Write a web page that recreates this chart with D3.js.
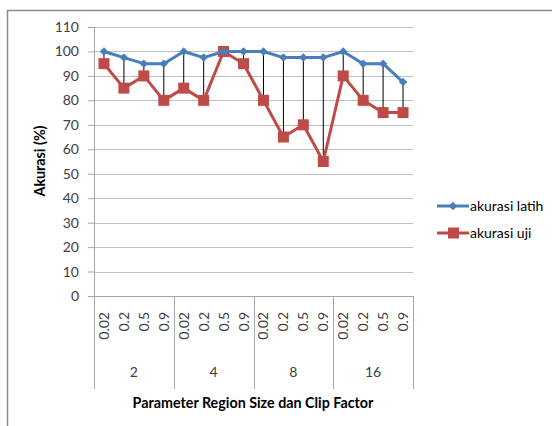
<!DOCTYPE html>
<html>
<head>
<meta charset="utf-8">
<script src="https://cdn.jsdelivr.net/npm/d3@7"></script>
<style>
  html, body { margin: 0; padding: 0; background: #fff; }
  svg { display: block; font-family: Lato, "Liberation Sans", sans-serif; }
</style>
</head>
<body>
<svg id="chart" width="552" height="426"></svg>
<script>
// Region size groups and the clip factors inside each group
const groups = ["2", "4", "8", "16"];
const clipFactors = ["0.02", "0.2", "0.5", "0.9"];

// Accuracy (%) per configuration, in group order
const akurasiLatih = [100, 97.5, 95, 95, 100, 97.5, 100, 100, 100, 97.5, 97.5, 97.5, 100, 95, 95, 87.5];
const akurasiUji   = [95, 85, 90, 80, 85, 80, 100, 95, 80, 65, 70, 55, 90, 80, 75, 75];

const yTicks = [0, 10, 20, 30, 40, 50, 60, 70, 80, 90, 100, 110];

const seriesNames = ["akurasi latih", "akurasi uji"];
const blue = "#4A7EBB";
const red = "#BE4B48";

// One row per category: group label, clip factor label, both values
const rows = [];
groups.forEach((g, gi) => clipFactors.forEach((c, ci) => {
  const i = gi * clipFactors.length + ci;
  rows.push({ key: g + "|" + c, group: g, clip: c, latih: akurasiLatih[i], uji: akurasiUji[i] });
}));

const svg = d3.select("#chart");

// Chart frame (only top and left edges fall inside the page)
svg.append("line").attr("x1", 7).attr("x2", 552).attr("y1", 10.5).attr("y2", 10.5)
  .attr("stroke", "#8c8c8c").attr("stroke-width", 1.5);
svg.append("line").attr("x1", 7.5).attr("x2", 7.5).attr("y1", 10).attr("y2", 426)
  .attr("stroke", "#8c8c8c").attr("stroke-width", 1.5);

const plot = { left: 94, right: 413, top: 27, bottom: 296 };

const x = d3.scaleBand().domain(rows.map(r => r.key)).range([plot.left, plot.right]);
const y = d3.scaleLinear().domain([0, 110]).range([plot.bottom, plot.top]);
const cx = k => x(k) + x.bandwidth() / 2;

// Horizontal gridlines
svg.append("g").selectAll("line").data(yTicks.filter(t => t > 0)).join("line")
  .attr("x1", plot.left).attr("x2", plot.right)
  .attr("y1", d => Math.round(y(d)) + 0.5).attr("y2", d => Math.round(y(d)) + 0.5)
  .attr("stroke", "#bfbfbf").attr("stroke-width", 1);

// Y axis with outward ticks
const yAxis = svg.append("g").attr("transform", `translate(${plot.left},0)`)
  .call(d3.axisLeft(y).tickValues(yTicks).tickSize(6).tickPadding(9));
yAxis.select(".domain").remove();
yAxis.selectAll(".tick line").attr("stroke", "#a6a6a6");
yAxis.selectAll(".tick text").attr("font-size", 14).attr("fill", "#404040")
  .attr("font-family", "Lato, 'Liberation Sans', sans-serif");
svg.append("line").attr("x1", plot.left + 0.5).attr("x2", plot.left + 0.5)
  .attr("y1", plot.top).attr("y2", 389).attr("stroke", "#a6a6a6");

// X axis baseline
svg.append("line").attr("x1", plot.left - 6).attr("x2", plot.right)
  .attr("y1", Math.round(y(0)) + 0.5).attr("y2", Math.round(y(0)) + 0.5)
  .attr("stroke", "#a6a6a6");

// Group dividers below the axis
const boundaries = groups.map((g, gi) => x(rows[gi * clipFactors.length].key)).concat([plot.right]);
svg.append("g").selectAll("line").data(boundaries.slice(1)).join("line")
  .attr("x1", d => Math.round(d) + 0.5).attr("x2", d => Math.round(d) + 0.5)
  .attr("y1", y(0)).attr("y2", 389).attr("stroke", "#a6a6a6");

// Clip factor labels, rotated
svg.append("g").selectAll("text").data(rows).join("text")
  .attr("transform", d => `translate(${cx(d.key) + 5},${y(0) + 16}) rotate(-90)`)
  .attr("text-anchor", "end").attr("font-size", 14).attr("fill", "#404040")
  .text(d => d.clip);

// Region size labels
svg.append("g").selectAll("text").data(groups).join("text")
  .attr("x", (g, gi) => (boundaries[gi] + boundaries[gi + 1]) / 2)
  .attr("y", 377).attr("text-anchor", "middle").attr("font-size", 14).attr("fill", "#404040")
  .text(g => g);

// High-low lines between the two series
svg.append("g").selectAll("line").data(rows).join("line")
  .attr("x1", d => cx(d.key)).attr("x2", d => cx(d.key))
  .attr("y1", d => y(d.latih)).attr("y2", d => y(d.uji))
  .attr("stroke", "#000").attr("stroke-width", 1);

const line = key => d3.line().x(d => cx(d.key)).y(d => y(d[key]));

// Uji series
svg.append("path").datum(rows).attr("d", line("uji"))
  .attr("fill", "none").attr("stroke", red).attr("stroke-width", 3).attr("stroke-linejoin", "round");
svg.append("g").selectAll("rect").data(rows).join("rect")
  .attr("x", d => cx(d.key) - 5.5).attr("y", d => y(d.uji) - 5.5)
  .attr("width", 11).attr("height", 11).attr("fill", red);

// Latih series
svg.append("path").datum(rows).attr("d", line("latih"))
  .attr("fill", "none").attr("stroke", blue).attr("stroke-width", 3).attr("stroke-linejoin", "round");
const diamond = d3.symbol().type(d3.symbolDiamond2).size(45);
svg.append("g").selectAll("path").data(rows).join("path")
  .attr("transform", d => `translate(${cx(d.key)},${y(d.latih)})`)
  .attr("d", diamond).attr("fill", blue);

// Axis titles
svg.append("text").attr("x", (plot.left + plot.right) / 2 - 0.5).attr("y", 408)
  .attr("text-anchor", "middle").attr("font-size", 14.3).attr("font-weight", "bold").attr("fill", "#000")
  .text("Parameter Region Size dan Clip Factor");
svg.append("text").attr("transform", "translate(45,161) rotate(-90)")
  .attr("text-anchor", "middle").attr("font-size", 14.3).attr("font-weight", "bold").attr("fill", "#000")
  .text("Akurasi (%)");

// Legend
const legend = svg.append("g").selectAll("g").data(seriesNames).join("g")
  .attr("transform", (d, i) => `translate(437,${206 + i * 27})`);
legend.append("line").attr("x1", 0).attr("x2", 32).attr("y1", 0).attr("y2", 0)
  .attr("stroke", (d, i) => i ? red : blue).attr("stroke-width", 3);
legend.each(function (d, i) {
  const g = d3.select(this);
  if (i) g.append("rect").attr("x", 11).attr("y", -5.5).attr("width", 11).attr("height", 11).attr("fill", red);
  else g.append("path").attr("transform", "translate(16,0)").attr("d", diamond).attr("fill", blue);
});
legend.append("text").attr("x", 33).attr("y", 5).attr("font-size", 14).attr("fill", "#000")
  .text(d => d);
</script>
</body>
</html>
